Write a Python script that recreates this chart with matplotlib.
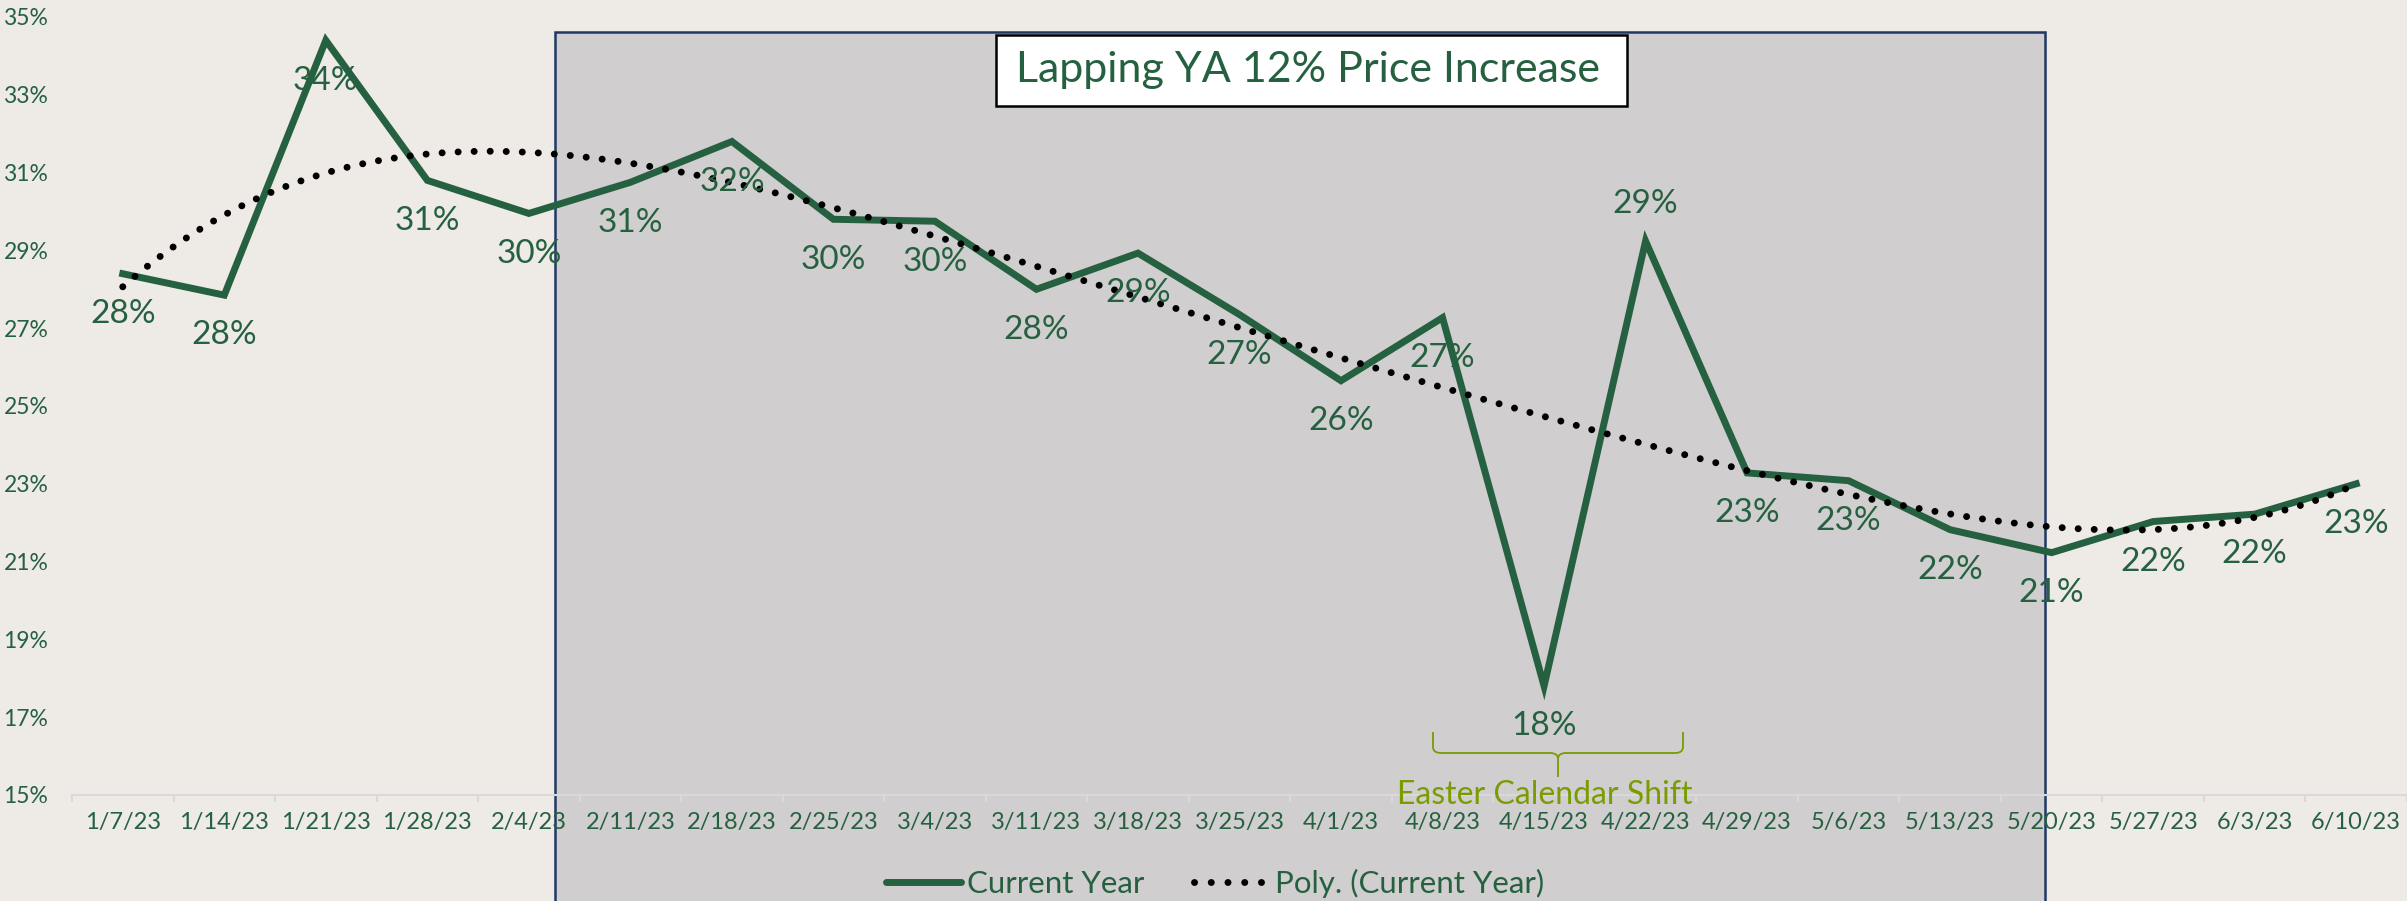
import matplotlib
matplotlib.use("Agg")
import matplotlib.pyplot as plt
import numpy as np
from matplotlib.patches import Rectangle, PathPatch
from matplotlib.path import Path
from matplotlib.lines import Line2D

weeks = ["1/7/23", "1/14/23", "1/21/23", "1/28/23", "2/4/23", "2/11/23", "2/18/23",
         "2/25/23", "3/4/23", "3/11/23", "3/18/23", "3/25/23", "4/1/23", "4/8/23",
         "4/15/23", "4/22/23", "4/29/23", "5/6/23", "5/13/23", "5/20/23", "5/27/23",
         "6/3/23", "6/10/23"]
current_year = [28.4, 27.85, 34.4, 30.8, 29.95, 30.75, 31.8, 29.8, 29.75, 28.0, 28.93,
                27.35, 25.65, 27.27, 17.8, 29.24, 23.28, 23.08, 21.82, 21.23, 22.03,
                22.22, 23.0]
y_ticks = [15, 17, 19, 21, 23, 25, 27, 29, 31, 33, 35]

green = "#256140"
olive = "#7A9C02"
bg = "#EEEAE6"

plt.rcParams["font.family"] = ["Lato", "DejaVu Sans"]

W, H = 2407, 901
fig = plt.figure(figsize=(W / 100, H / 100), dpi=100, facecolor=bg)

# shaded period behind the chart
fig.patches.append(Rectangle((555 / W, -0.01), (2045 - 555) / W, 1.01 - 32 / H,
                             transform=fig.transFigure, facecolor="#D0CECE",
                             edgecolor="#1F3864", linewidth=1.8, zorder=0))

ax = fig.add_axes([72 / W, 1 - 795 / H, (W - 72) / W, (795 - 17) / H])
ax.set_facecolor("none")
ax.set_zorder(1)

x = np.arange(len(weeks))
y = np.array(current_year)
ax.plot(x, y, color=green, lw=5, solid_joinstyle="miter", zorder=3)

coef = np.polyfit(x, y, 6)
xs = np.linspace(0, len(weeks) - 1, 400)
ax.plot(xs, np.polyval(coef, xs), color="black", lw=5,
        linestyle=(0, (0.01, 2.3)), dash_capstyle="round", zorder=4)

for i, v in enumerate(current_year):
    dy = 27 if i == 15 else -29
    ax.annotate(f"{round(v):.0f}%", (i, v), xytext=(0, dy), textcoords="offset points",
                ha="center", va="center", fontsize=24, color=green, zorder=5)

ax.set_xlim(-0.5, len(weeks) - 0.5)
ax.set_ylim(15, 35)
ax.set_yticks(y_ticks)
ax.set_yticklabels([f"{t}%" for t in y_ticks])
ax.set_xticks(x)
ax.set_xticklabels(weeks)
ax.set_xticks(np.arange(len(weeks) + 1) - 0.5, minor=True)
ax.tick_params(axis="y", length=0, pad=17, labelsize=16.5, labelcolor=green)
ax.tick_params(axis="x", which="major", length=0, pad=12, labelsize=17, labelcolor=green)
ax.tick_params(axis="x", which="minor", length=5, width=1.5, color="#D9D9D9")
for s in ["top", "right", "left"]:
    ax.spines[s].set_visible(False)
ax.spines["bottom"].set_color("#D9D9D9")
ax.spines["bottom"].set_linewidth(1.5)

# title box
fig.patches.append(Rectangle((996 / W, 1 - 106 / H), (1627 - 996) / W, 71 / H,
                             transform=fig.transFigure, facecolor="white",
                             edgecolor="black", linewidth=1.8, zorder=2))
fig.text(1308 / W, 1 - 70 / H, "Lapping YA 12% Price Increase", ha="center",
         va="center", fontsize=31, color=green, zorder=3)

# easter brace
def px(xp, yp):
    return (xp / W, 1 - yp / H)

l, r, cx = 1433, 1683, 1558
top, mid, tip = 732, 753, 777
verts = [px(l, top), px(l, mid - 6), px(l, mid), px(l + 8, mid),
         px(cx - 8, mid), px(cx, mid), px(cx, mid + 6), px(cx, tip),
         px(cx, mid + 6), px(cx, mid), px(cx + 8, mid),
         px(r - 8, mid), px(r, mid), px(r, mid - 6), px(r, top)]
codes = [Path.MOVETO, Path.LINETO, Path.CURVE3, Path.CURVE3,
         Path.LINETO, Path.CURVE3, Path.CURVE3, Path.LINETO,
         Path.MOVETO, Path.CURVE3, Path.CURVE3,
         Path.LINETO, Path.CURVE3, Path.CURVE3, Path.LINETO]
fig.patches.append(PathPatch(Path(verts, codes), transform=fig.transFigure,
                             facecolor="none", edgecolor=olive, linewidth=1.3, zorder=3))
fig.text(1545 / W, 1 - 795 / H, "Easter Calendar Shift", ha="center", va="center",
         fontsize=23, color=olive, zorder=3)

handles = [Line2D([], [], color=green, lw=5, solid_capstyle="round"),
           Line2D([], [], color="black", lw=5, linestyle=(0, (0.01, 2.4)),
                  dash_capstyle="round")]
fig.legend(handles, ["Current Year", "Poly. (Current Year)"], loc="center",
           bbox_to_anchor=(1215 / W, 1 - 883 / H), ncol=2, frameon=False,
           fontsize=22.5, labelcolor=green, handlelength=2.4, handletextpad=0.2,
           columnspacing=1.6)

fig.savefig("out.png", dpi=100, facecolor=bg)
